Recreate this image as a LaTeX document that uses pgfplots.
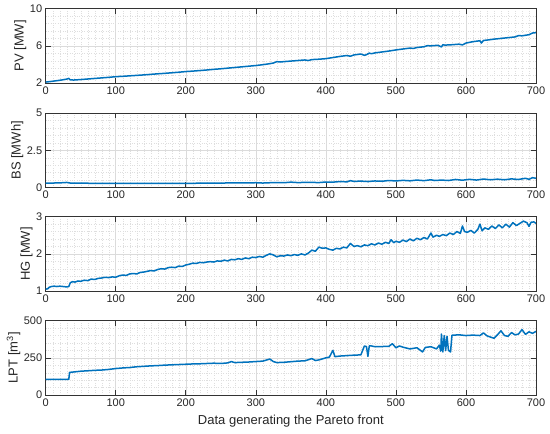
\documentclass[border=0pt]{standalone}
\usepackage{fontspec}
\setmainfont{Liberation Sans}
\usepackage{pgfplots}
\pgfplotsset{compat=1.18}
\definecolor{mblue}{rgb}{0,0.447,0.741}
\pgfplotsset{
  panel/.style={
    scale only axis, width=490.3pt, height=74.3pt, anchor=south west,
    xmin=0,xmax=700, xtick={0,100,...,700},
    minor x tick num=9, minor y tick num=4,
    grid=both,
    major grid style={draw=black!14, line width=0.5pt},
    minor grid style={draw=black!13, dotted, line width=0.4pt},
    axis line style={draw=black!80, line width=0.6pt},
    tick style={draw=black!80, line width=0.6pt},
    major tick length=5pt, minor tick length=0pt,
    tick label style={font=\fontsize{11}{13}\selectfont, text=black!85},
    label style={font=\fontsize{13}{15}\selectfont, text=black!85},
    /pgf/number format/assume math mode=true,
    ylabel style={inner sep=0pt},
    xlabel style={yshift=-2pt},
  },
  ln/.style={draw=mblue, line width=1.5pt, mark=none, line join=round}
}
\begin{document}
\begin{tikzpicture}
\useasboundingbox (0,0) rectangle (550pt,434pt);
% PV
\begin{axis}[panel, at={(45.7pt,351pt)}, ymin=2, ymax=10, ytick={2,6,10}, ylabel={PV [MW]}]
\addplot[ln] coordinates {(0,2.10)(5,2.14)(10,2.19)(15,2.24)(20,2.29)(25,2.35)(30,2.42)(33,2.50)(35,2.33)(40,2.32)(50,2.37)(60,2.43)(70,2.49)(80,2.55)(90,2.61)(100,2.68)(110,2.72)(120,2.77)(130,2.82)(140,2.87)(150,2.93)(160,2.99)(170,3.04)(180,3.10)(190,3.16)(200,3.23)(210,3.28)(220,3.34)(230,3.40)(240,3.47)(250,3.53)(260,3.60)(270,3.67)(280,3.74)(290,3.81)(300,3.88)(310,3.97)(320,4.08)(325,4.15)(330,4.30)(335,4.26)(340,4.30)(350,4.36)(360,4.42)(370,4.48)(375,4.42)(380,4.52)(390,4.56)(400,4.62)(410,4.74)(420,4.86)(430,4.96)(435,4.88)(440,5.02)(450,5.12)(455,4.98)(458,5.05)(462,5.22)(465,5.15)(470,5.24)(480,5.34)(490,5.44)(500,5.56)(510,5.66)(520,5.76)(525,5.72)(530,5.82)(540,5.90)(545,6.02)(550,6.00)(560,6.06)(565,5.88)(567,6.12)(570,6.08)(580,6.12)(590,6.18)(595,6.10)(600,6.30)(610,6.45)(620,6.55)(622,6.30)(625,6.58)(630,6.62)(640,6.72)(650,6.80)(660,6.88)(670,6.96)(675,7.10)(680,7.08)(690,7.20)(695,7.38)(700,7.42)};
\end{axis}
% BS
\begin{axis}[panel, at={(45.7pt,246.5pt)}, ymin=0, ymax=5, ytick={0,2.5,5}, ylabel={BS [MWh]}]
\addplot[ln] coordinates {(0,0.30)(10,0.30)(20,0.31)(30,0.34)(35,0.30)(50,0.29)(75,0.28)(100,0.28)(125,0.28)(150,0.28)(175,0.28)(200,0.28)(225,0.29)(250,0.30)(275,0.31)(300,0.32)(310,0.30)(325,0.33)(340,0.32)(350,0.36)(360,0.33)(375,0.35)(390,0.33)(400,0.37)(410,0.36)(420,0.40)(430,0.38)(435,0.46)(440,0.41)(450,0.43)(460,0.40)(470,0.44)(480,0.42)(490,0.47)(500,0.44)(510,0.48)(520,0.45)(530,0.50)(540,0.46)(550,0.52)(555,0.47)(565,0.50)(575,0.47)(585,0.54)(595,0.49)(605,0.55)(615,0.50)(625,0.57)(635,0.52)(645,0.56)(655,0.52)(665,0.58)(675,0.54)(685,0.62)(690,0.55)(695,0.66)(700,0.62)};
\end{axis}
% HG
\begin{axis}[panel, at={(45.7pt,143pt)}, ymin=1, ymax=3, ytick={1,2,3}, ylabel={HG [MW]}]
\addplot[ln] coordinates {(0,1.05)(3,1.06)(5,1.10)(8,1.12)(12,1.13)(16,1.12)(20,1.13)(25,1.12)(30,1.11)(33,1.12)(35,1.22)(38,1.25)(42,1.24)(46,1.27)(50,1.26)(55,1.29)(60,1.28)(65,1.32)(70,1.31)(75,1.34)(80,1.35)(85,1.37)(90,1.36)(95,1.38)(100,1.37)(105,1.41)(110,1.43)(115,1.42)(120,1.46)(125,1.47)(130,1.46)(135,1.50)(140,1.51)(145,1.53)(150,1.55)(155,1.54)(160,1.58)(165,1.60)(170,1.59)(175,1.63)(180,1.64)(185,1.63)(190,1.67)(195,1.66)(200,1.70)(205,1.72)(210,1.75)(215,1.74)(220,1.77)(225,1.76)(230,1.78)(235,1.79)(240,1.78)(245,1.81)(250,1.80)(255,1.83)(260,1.81)(265,1.85)(270,1.84)(275,1.87)(280,1.85)(285,1.89)(290,1.87)(295,1.91)(300,1.90)(305,1.93)(310,1.91)(315,1.96)(320,2.00)(325,1.97)(330,1.92)(335,1.95)(340,1.94)(345,1.97)(350,1.95)(355,1.98)(360,1.96)(365,2.00)(370,1.97)(375,2.02)(380,2.10)(385,2.07)(390,2.18)(395,2.15)(400,2.16)(405,2.12)(410,2.10)(415,2.15)(420,2.13)(425,2.18)(430,2.16)(435,2.28)(440,2.20)(445,2.22)(450,2.19)(455,2.24)(460,2.22)(465,2.27)(470,2.24)(475,2.29)(480,2.26)(485,2.31)(490,2.28)(493,2.38)(497,2.30)(500,2.34)(505,2.31)(510,2.37)(515,2.33)(520,2.40)(525,2.35)(530,2.42)(535,2.38)(540,2.44)(545,2.40)(550,2.56)(553,2.45)(558,2.50)(562,2.47)(567,2.52)(572,2.49)(577,2.56)(582,2.52)(587,2.60)(592,2.55)(595,2.75)(598,2.60)(602,2.58)(607,2.63)(612,2.56)(617,2.66)(620,2.80)(623,2.62)(627,2.70)(632,2.66)(637,2.75)(642,2.68)(647,2.78)(652,2.70)(657,2.80)(662,2.72)(667,2.84)(672,2.76)(677,2.82)(682,2.88)(687,2.84)(690,2.74)(693,2.85)(697,2.86)(700,2.82)};
\end{axis}
% LPT
\begin{axis}[panel, at={(45.7pt,39pt)}, ymin=0, ymax=500, ytick={0,250,500}, ylabel={LPT [m\textsuperscript{3}]}, xlabel={Data generating the Pareto front}]
\addplot[ln] coordinates {(0,105)(10,105)(20,105)(33,105)(34,152)(40,155)(50,160)(60,163)(70,166)(80,168)(90,172)(100,178)(110,182)(120,185)(130,190)(140,193)(150,196)(160,198)(170,201)(180,203)(190,205)(200,207)(210,209)(220,210)(230,212)(240,214)(250,212)(260,216)(265,225)(270,218)(280,220)(290,222)(300,225)(310,228)(315,235)(320,242)(325,225)(330,218)(340,220)(350,224)(360,228)(370,230)(380,245)(385,232)(390,236)(400,250)(405,255)(410,300)(413,258)(420,262)(430,265)(440,268)(450,270)(455,330)(458,325)(460,260)(462,330)(465,330)(470,325)(480,326)(490,328)(495,345)(500,318)(505,330)(510,322)(520,310)(530,318)(538,290)(542,320)(550,325)(558,310)(562,335)(564,295)(565,410)(567,290)(569,400)(571,300)(573,395)(575,300)(578,290)(580,402)(590,405)(600,400)(610,403)(620,400)(625,418)(630,398)(640,382)(645,405)(650,432)(655,400)(660,395)(665,420)(670,405)(675,410)(680,440)(685,408)(690,425)(695,415)(700,428)};
\end{axis}
\end{tikzpicture}
\end{document}
